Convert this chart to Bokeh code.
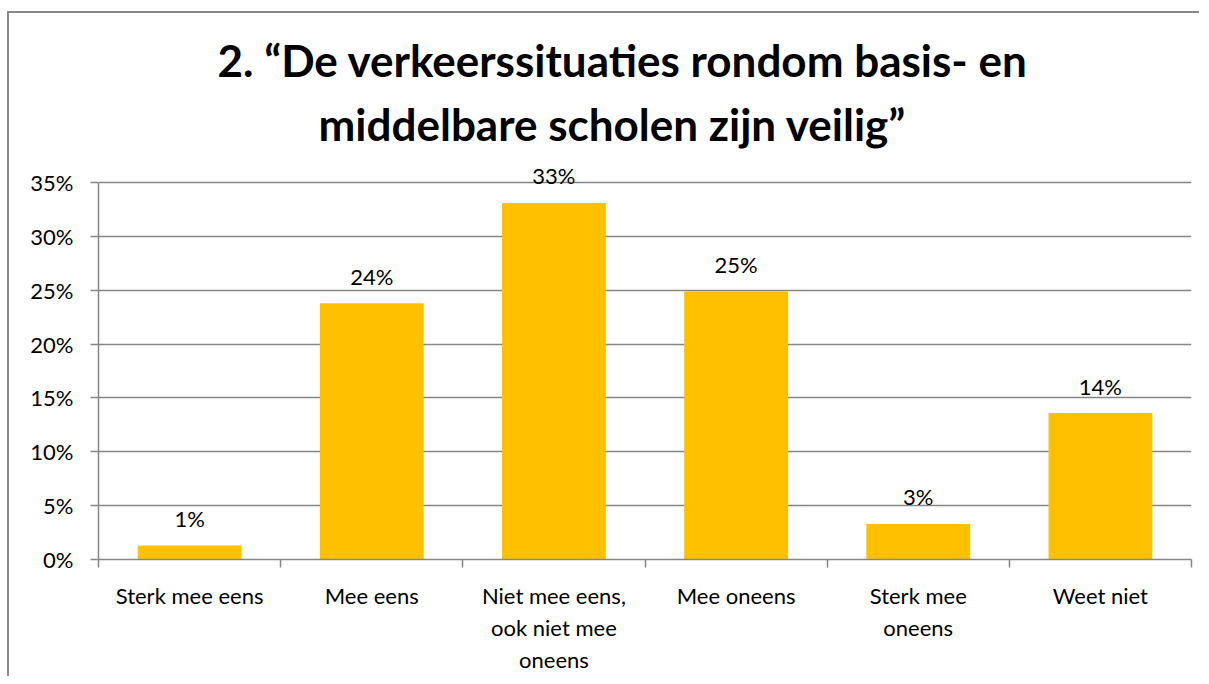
from bokeh.plotting import figure
from bokeh.models import ColumnDataSource, FixedTicker, NumeralTickFormatter, Range1d, Title
from bokeh.core.properties import value
from bokeh.embed import file_html
from bokeh.resources import INLINE

categories = ["Sterk mee eens", "Mee eens", "Niet mee eens,\nook niet mee\noneens",
              "Mee oneens", "Sterk mee\noneens", "Weet niet"]
values = [0.013, 0.238, 0.331, 0.249, 0.033, 0.136]
labels = ["1%", "24%", "33%", "25%", "3%", "14%"]
y_ticks = [0.0, 0.05, 0.10, 0.15, 0.20, 0.25, 0.30, 0.35]
title_lines = ["2. \u201cDe verkeerssituaties rondom basis- en",
               "middelbare scholen zijn veilig\u201d"]

GRID = "#868686"
BAR = "#FFC000"
FONT = "Lato"

n = len(categories)
centers = [i + 0.5 for i in range(n)]
bounds = [float(i) for i in range(n + 1)]

# axis (0..35%) occupies 377 px; the frame is a bit taller so labels above bars are not clipped
AXIS_PX = 377
FRAME_H = 400
y_top = 0.35 * FRAME_H / AXIS_PX

src = ColumnDataSource(dict(x=centers, top=values, label=labels))

p = figure(frame_width=1093, frame_height=FRAME_H,
           x_range=Range1d(0, n), y_range=Range1d(0, y_top),
           output_backend="svg", toolbar_location=None,
           min_border_left=89, min_border_top=146, min_border_right=8,
           min_border_bottom=100)
p.margin = (11, 0, 0, 7)
p.styles = {"border-top": "2px solid #898989", "border-left": "2px solid #898989"}

p.vbar(x="x", top="top", width=0.57, source=src, fill_color=BAR, line_color=None)
p.text(x="x", y="top", text="label", source=src, text_align="center",
       text_baseline="alphabetic", y_offset=-27, text_font=value(FONT),
       text_font_size="22px", text_color="black")

# titles (first added sits closest to the frame)
t2 = Title(text=title_lines[1], align="left", text_font=FONT, text_font_size="44px",
           text_font_style="bold", text_color="black", standoff=20, offset=220)
t1 = Title(text=title_lines[0], align="left", text_font=FONT, text_font_size="44px",
           text_font_style="bold", text_color="black", standoff=0, offset=119)
p.add_layout(t2, "above")
p.add_layout(t1, "above")

p.outline_line_color = None
p.xgrid.grid_line_color = None
p.ygrid.ticker = FixedTicker(ticks=y_ticks)
p.ygrid.grid_line_color = GRID
p.ygrid.grid_line_width = 1.5

# y axis
p.yaxis.ticker = FixedTicker(ticks=y_ticks)
p.yaxis.bounds = (0, 0.35)
p.yaxis.formatter = NumeralTickFormatter(format="0%")
p.yaxis.axis_line_color = GRID
p.yaxis.axis_line_width = 1.5
p.yaxis.major_tick_line_color = GRID
p.yaxis.major_tick_line_width = 1.5
p.yaxis.major_tick_out = 8
p.yaxis.major_tick_in = 0
p.yaxis.minor_tick_line_color = None
p.yaxis.major_label_standoff = 17
p.yaxis.major_label_text_font = FONT
p.yaxis.major_label_text_font_size = "22px"
p.yaxis.major_label_text_color = "black"

# x axis: labels at centers, ticks at category boundaries
p.xaxis.ticker = FixedTicker(ticks=centers, minor_ticks=bounds)
p.xaxis.major_label_overrides = {c: lab for c, lab in zip(centers, categories)}
p.xaxis.axis_line_color = GRID
p.xaxis.axis_line_width = 1.5
p.xaxis.major_tick_line_color = None
p.xaxis.major_tick_out = 8
p.xaxis.major_tick_in = 0
p.xaxis.minor_tick_line_color = GRID
p.xaxis.minor_tick_line_width = 1.5
p.xaxis.minor_tick_out = 8
p.xaxis.minor_tick_in = 0
p.xaxis.major_label_standoff = 14
p.xaxis.major_label_text_font = FONT
p.xaxis.major_label_text_font_size = "22px"
p.xaxis.major_label_text_color = "black"
p.xaxis.major_label_text_line_height = 1.2

open("out.html", "w").write(file_html(p, INLINE))
